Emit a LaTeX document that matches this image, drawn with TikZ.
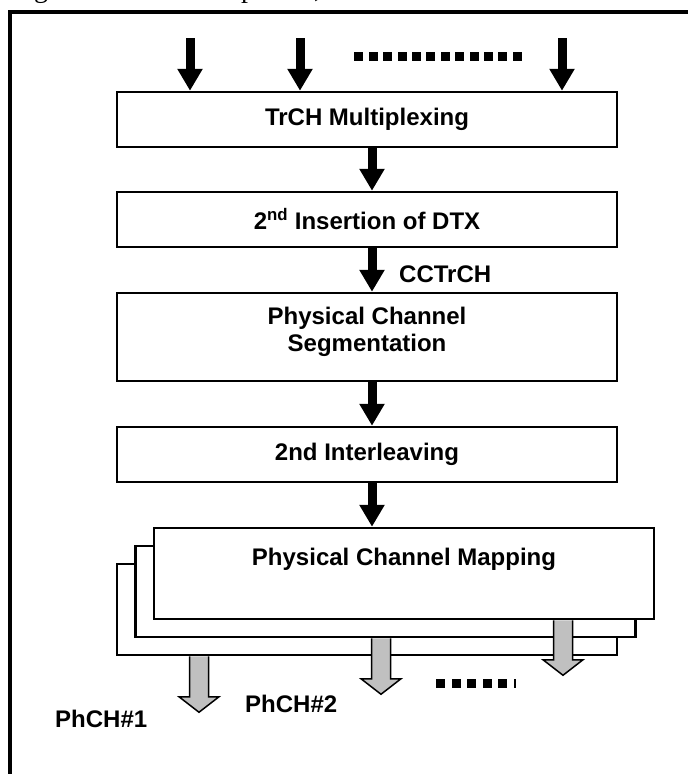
\documentclass[tikz,border=0pt]{standalone}
\usepackage{fontspec}
\setmainfont{Liberation Sans}
\newfontfamily\capfont{Liberation Serif}
\usetikzlibrary{arrows.meta,calc}
\definecolor{arrowgray}{RGB}{192,192,192}
\begin{document}
\begin{tikzpicture}[x=1pt,y=-1pt,
  box/.style={draw,line width=2.5pt,fill=white,minimum width=500pt,inner sep=0pt,
              font=\bfseries\fontsize{24}{27}\selectfont},
  lbl/.style={inner sep=0pt,font=\bfseries\fontsize{24}{27}\selectfont},
  flow/.style={line width=9pt,-{Triangle[width=24pt,length=22pt]}},
  garrow/.style={fill=arrowgray,draw=black,line width=1.5pt,line join=miter},
  capt/.style={anchor=base west,inner sep=0pt,font=\capfont\fontsize{28}{30}\selectfont}]
\useasboundingbox (0,0) rectangle (688,774);
\clip (0,0) rectangle (688,774);

% caption line above the frame (only its descenders fall inside)
\node[capt] (capg) at (34,-2.5) {g};
\node[capt] (capp) at (241,-2.5) {p};
\node[capt] (capc) at (314,-2.5) {,};

% outer frame
\draw[line width=4pt] (9.5,800) -- (9.5,12) -- (720,12);

% processing chain
\node[box,minimum height=55pt] (trch) at (367,119.5) {TrCH Multiplexing};
\node[box,minimum height=55pt] (ins) at (367,219.5) {2\textsuperscript{nd} Insertion of DTX};
\node[box,minimum height=88pt] (seg) at (367,337) {};
\node[lbl,anchor=base] (segA) at (367,324) {Physical Channel};
\node[lbl,anchor=base] (segB) at (367,351) {Segmentation};
\node[box,minimum height=55pt] (inter) at (367,454.5) {2nd Interleaving};

% stacked mapping boxes
\node[box,minimum height=91pt] (map3) at (367,609.5) {};
\node[box,minimum height=91pt] (map2) at (385.5,591.5) {};
\node[box,minimum height=91pt] (map) at (404,573.5) {};
\node[lbl,anchor=base] (maptxt) at (404,565) {Physical Channel Mapping};

% transport channel inputs
\coordinate (in1) at (190,38);
\coordinate (in2) at (300,38);
\coordinate (in3) at (562,38);
\draw[flow] (in1) -- (in1 |- trch.north);
\draw[flow] (in2) -- (in2 |- trch.north);
\draw[flow] (in3) -- (in3 |- trch.north);
\foreach \i in {0,...,11}
  \fill (354.4+14.4*\i,52) rectangle ++(9,9);

% main flow
\coordinate (spine) at (372,0);
\draw[flow] (trch.south -| spine) -- (ins.north -| spine);
\draw[flow] (ins.south -| spine) -- (seg.north -| spine);
\draw[flow] (seg.south -| spine) -- (inter.north -| spine);
\draw[flow] (inter.south -| spine) -- (map.north -| spine);
\node[lbl,anchor=base west] (cctrch) at (399,282) {CCTrCH};

% physical channel outputs
\coordinate (g1) at (199,0);
\coordinate (g2) at (381,0);
\coordinate (g3) at (563,0);
\path[garrow] ($(map3.south -| g1)+(-9.5,0)$) -- ++(0,40.5) -- ++(-10.5,0)
  -- ++(20,15.5) -- ++(20,-15.5) -- ++(-10.5,0) -- ++(0,-40.5);
\path[garrow] ($(map2.south -| g2)+(-9.5,0)$) -- ++(0,40.5) -- ++(-10.5,0)
  -- ++(20,15.5) -- ++(20,-15.5) -- ++(-10.5,0) -- ++(0,-40.5);
\path[garrow] ($(map.south -| g3)+(-9.5,0)$) -- ++(0,39.5) -- ++(-10.5,0)
  -- ++(20,15.5) -- ++(20,-15.5) -- ++(-10.5,0) -- ++(0,-39.5);
\foreach \i in {0,...,4}
  \fill (436.4+15.4*\i,679) rectangle ++(9,9);
\fill (514,679) rectangle ++(2,9);

\node[lbl,anchor=base west] (ph2) at (245,712) {PhCH\#2};
\node[lbl,anchor=base west] (ph1) at (55,727) {PhCH\#1};
\end{tikzpicture}
\end{document}
